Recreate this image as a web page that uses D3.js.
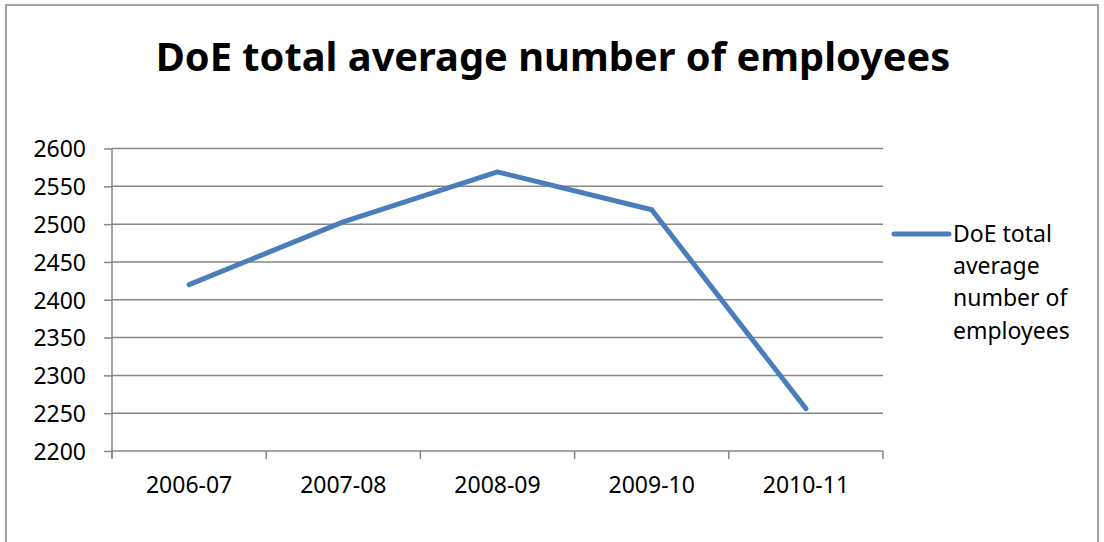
<!DOCTYPE html>
<html><head><meta charset="utf-8">
<script src="https://cdn.jsdelivr.net/npm/d3@7"></script>
<style>html,body{margin:0;padding:0;background:#fff;}svg{display:block;}</style>
</head><body>
<svg id="c" width="1104" height="542"></svg>
<script>
const categories = ["2006-07","2007-08","2008-09","2009-10","2010-11"];
const values = [2420, 2503, 2569, 2519, 2256];
const yTicks = [2200,2250,2300,2350,2400,2450,2500,2550,2600];
const title = "DoE total average number of employees";
const seriesName = ["DoE total","average","number of","employees"];

const svg = d3.select("#c");
const font = "'Noto Sans', sans-serif";
const grey = "#868686";
const blue = "#4a7ebb";

svg.append("rect").attr("x",6).attr("y",5).attr("width",1092).attr("height",560)
  .attr("fill","#fff").attr("stroke",grey).attr("stroke-width",1.5);

const t = svg.append("text").attr("x",553).attr("y",71).attr("text-anchor","middle")
  .attr("font-family",font).attr("font-weight","bold").attr("font-size",40).attr("fill","#000").text(title);
const w = t.node().getComputedTextLength();
t.attr("font-size", 40*795/w);

const L = 112, R = 883, T = 148.5, B = 451;
const x = d3.scaleBand().domain(categories).range([L,R]);
const y = d3.scaleLinear().domain([2200,2600]).range([B,T]);

// gridlines
svg.append("g").selectAll("line").data(yTicks.slice(1)).join("line")
  .attr("x1",L).attr("x2",R).attr("y1",d=>y(d)).attr("y2",d=>y(d))
  .attr("stroke",grey).attr("stroke-width",1.5);

// y axis
const ya = svg.append("g").attr("transform",`translate(${L},0)`)
  .call(d3.axisLeft(y).tickValues(yTicks).tickSize(8).tickPadding(18).tickFormat(d3.format("d")));
ya.select(".domain").attr("stroke",grey).attr("stroke-width",1.5).attr("d",`M0,${T}V${B+7}`);
ya.selectAll(".tick line").attr("stroke",grey).attr("stroke-width",1.5);
ya.selectAll(".tick text").attr("font-family",font).attr("font-size",23).attr("fill","#000").attr("dy","0.36em");

// x axis
const xa = svg.append("g").attr("transform",`translate(0,${B})`)
  .call(d3.axisBottom(x).tickSize(0).tickPadding(26));
xa.select(".domain").attr("stroke",grey).attr("stroke-width",1.5).attr("d",`M${L},0H${R}`);
xa.selectAll(".tick text").attr("font-family",font).attr("font-size",23).attr("fill","#000");
const bounds = categories.map(c=>x(c)).concat([R]);
xa.append("g").selectAll("line").data(bounds).join("line")
  .attr("x1",d=>d).attr("x2",d=>d).attr("y1",0).attr("y2",8)
  .attr("stroke",grey).attr("stroke-width",1.5);

// line
const line = d3.line().x((d,i)=>x(categories[i])+x.bandwidth()/2).y(d=>y(d));
svg.append("path").datum(values).attr("d",line).attr("fill","none")
  .attr("stroke",blue).attr("stroke-width",5).attr("stroke-linecap","round").attr("stroke-linejoin","round");

// legend
svg.append("line").attr("x1",894).attr("x2",949).attr("y1",234).attr("y2",234)
  .attr("stroke",blue).attr("stroke-width",5).attr("stroke-linecap","round");
svg.append("g").selectAll("text").data(seriesName).join("text")
  .attr("x",953).attr("y",(d,i)=>242+i*32.2)
  .attr("font-family",font).attr("font-size",23).attr("fill","#000").text(d=>d);
</script>
</body></html>
